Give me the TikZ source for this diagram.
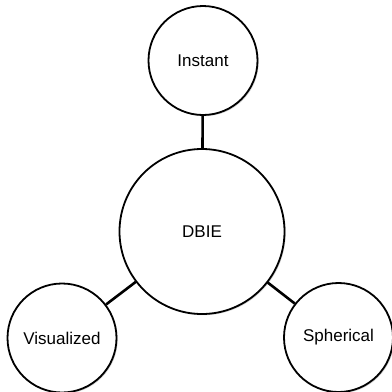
\documentclass[tikz,border=0pt]{standalone}
\usepackage{fontspec}
\setmainfont{Liberation Sans}
\usetikzlibrary{shadows}
\begin{document}
\begin{tikzpicture}[x=1pt,y=-1pt,
  bubble/.style={circle, draw=black, line width=1.8pt, fill=white, inner sep=0pt,
    font=\fontsize{17}{20}\selectfont,
    drop shadow={shadow xshift=1.2pt, shadow yshift=-1.2pt, fill=black, opacity=0.18}},
  hub/.style={bubble, minimum size=165pt},
  leaf/.style={bubble, minimum size=109pt},
  link/.style={line width=2.6pt, draw=black}]
  \useasboundingbox (0,0) rectangle (392,392);
  % connectors first, so the circles sit on top of them
  \path (202,231.5) coordinate (c0)
        (203,60.5) coordinate (c1)
        (62,338) coordinate (c2)
        (338.5,337.5) coordinate (c3);
  \node[hub] (dbie) at (c0) {DBIE};
  \node[leaf] (instant) at (c1) {Instant};
  \node[leaf] (visualized) at (c2) {Visualized};
  \node[leaf] (spherical) at (c3) {Spherical};
  \draw[link] (dbie) -- (instant);
  \draw[link] (dbie) -- (visualized);
  \draw[link] (dbie) -- (spherical);
\end{tikzpicture}
\end{document}
